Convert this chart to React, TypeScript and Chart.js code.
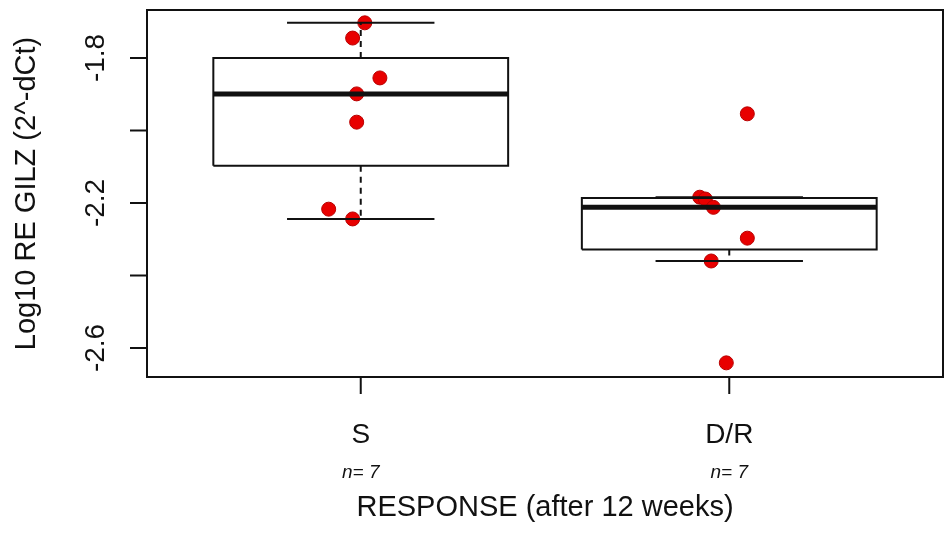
import { useEffect, useRef } from "react";
import { Chart, registerables } from "chart.js";

Chart.register(...registerables);

const groups = ["S", "D/R"];
const sValues = [-1.703, -1.745, -1.855, -1.899, -1.977, -2.217, -2.244];
const sJitter = [0.011, -0.022, 0.052, -0.011, -0.011, -0.087, -0.022];
const drValues = [-1.954, -2.184, -2.189, -2.212, -2.297, -2.36, -2.641];
const drJitter = [0.049, -0.08, -0.065, -0.043, 0.049, -0.049, -0.008];
const yTicks = [-2.6, -2.4, -2.2, -2.0, -1.8];
const yTickLabels = ["-2.6", "", "-2.2", "", "-1.8"];
const xTitle = "RESPONSE (after 12 weeks)";
const yTitle = "Log10 RE GILZ (2^-dCt)";

const FONT = '"Liberation Sans", Arial, sans-serif';

// tukey five-number summary like R's boxplot
function fivenum(v: number[]) {
    const s = [...v].sort((a, b) => a - b);
    const n = s.length;
    const n4 = Math.floor((n + 3) / 2) / 2;
    const d = [1, n4, (n + 1) / 2, n + 1 - n4, n];
    return d.map((i) => 0.5 * (s[Math.floor(i) - 1] + s[Math.ceil(i) - 1]));
}

function boxStats(v: number[]) {
    const [, q1, med, q3] = fivenum(v);
    const iqr = q3 - q1;
    const lo = Math.min(...v.filter((x) => x >= q1 - 1.5 * iqr));
    const hi = Math.max(...v.filter((x) => x <= q3 + 1.5 * iqr));
    return { q1, med, q3, lo, hi };
}

function seg(points: { x: number; y: number }[], width: number, dash: number[] = []) {
    return {
        type: "line" as const,
        data: points,
        borderColor: "#111",
        borderWidth: width,
        borderDash: dash,
        pointRadius: 0,
        showLine: true,
        fill: false,
        tension: 0,
        borderCapStyle: "butt" as const,
    };
}

function boxDatasets(v: number[], pos: number) {
    const b = boxStats(v);
    const bw = 0.4;
    const cw = 0.2;
    return [
        seg([{ x: pos, y: b.q3 }, { x: pos, y: b.hi }], 2, [6, 5]),
        seg([{ x: pos, y: b.q1 }, { x: pos, y: b.lo }], 2, [6, 5]),
        seg([{ x: pos - cw, y: b.hi }, { x: pos + cw, y: b.hi }], 2),
        seg([{ x: pos - cw, y: b.lo }, { x: pos + cw, y: b.lo }], 2),
        seg(
            [
                { x: pos - bw, y: b.q1 },
                { x: pos + bw, y: b.q1 },
                { x: pos + bw, y: b.q3 },
                { x: pos - bw, y: b.q3 },
                { x: pos - bw, y: b.q1 },
            ],
            2
        ),
        seg([{ x: pos - bw, y: b.med }, { x: pos + bw, y: b.med }], 5),
    ];
}

const axesPlugin = {
    id: "rAxes",
    afterDraw(chart: any) {
        const { ctx, chartArea } = chart;
        const xs = chart.scales.x;
        const ys = chart.scales.y;
        ctx.save();
        ctx.strokeStyle = "#111";
        ctx.fillStyle = "#111";
        ctx.lineWidth = 2;
        ctx.strokeRect(chartArea.left, chartArea.top, chartArea.right - chartArea.left, chartArea.bottom - chartArea.top);

        // y axis ticks
        ctx.font = `28px ${FONT}`;
        ctx.textAlign = "center";
        ctx.textBaseline = "alphabetic";
        yTicks.forEach((t, i) => {
            const py = ys.getPixelForValue(t);
            ctx.beginPath();
            ctx.moveTo(chartArea.left, py);
            ctx.lineTo(chartArea.left - 17, py);
            ctx.stroke();
            if (yTickLabels[i]) {
                ctx.save();
                ctx.translate(chartArea.left - 43, py);
                ctx.rotate(-Math.PI / 2);
                ctx.fillText(yTickLabels[i], 0, 0);
                ctx.restore();
            }
        });

        // x axis ticks
        groups.forEach((g, i) => {
            const px = xs.getPixelForValue(i + 1);
            ctx.beginPath();
            ctx.moveTo(px, chartArea.bottom);
            ctx.lineTo(px, chartArea.bottom + 17);
            ctx.stroke();
            ctx.font = `28px ${FONT}`;
            ctx.fillText(g, px, 443);
            const n = i === 0 ? sValues.length : drValues.length;
            ctx.font = `italic 19px ${FONT}`;
            ctx.fillText(`n= ${n}`, px, 478);
        });

        ctx.font = `29px ${FONT}`;
        ctx.fillText(xTitle, (chartArea.left + chartArea.right) / 2, 516);
        ctx.save();
        ctx.translate(35, (chartArea.top + chartArea.bottom) / 2);
        ctx.rotate(-Math.PI / 2);
        ctx.fillText(yTitle, 0, 0);
        ctx.restore();
        ctx.restore();
    },
};

function BoxChart() {
    const canvasRef = useRef<HTMLCanvasElement>(null);

    useEffect(() => {
        document.body.style.margin = "0";
        const ctx = canvasRef.current?.getContext("2d");
        if (!ctx) return;
        const points = (vals: number[], jit: number[], pos: number) =>
            vals.map((y, i) => ({ x: pos + jit[i], y }));
        const chart = new Chart(ctx, {
            type: "scatter",
            data: {
                datasets: [
                    ...boxDatasets(sValues, 1),
                    ...boxDatasets(drValues, 2),
                    {
                        type: "scatter",
                        data: [...points(sValues, sJitter, 1), ...points(drValues, drJitter, 2)],
                        backgroundColor: "#e80000",
                        borderColor: "#b80000",
                        borderWidth: 1,
                        pointRadius: 7,
                    },
                ] as any,
            },
            options: {
                animation: false,
                responsive: true,
                maintainAspectRatio: false,
                layout: { autoPadding: false, padding: { left: 147, top: 10, right: 2, bottom: 163 } },
                scales: {
                    x: { type: "linear", min: 0.42, max: 2.58, display: false },
                    y: { type: "linear", min: -2.68, max: -1.6676, display: false },
                },
                plugins: {
                    legend: { display: false },
                    tooltip: { enabled: false },
                },
            },
            plugins: [axesPlugin],
        });
        return () => chart.destroy();
    }, []);

    return (
        <div style={{ width: 945, height: 540, position: "relative", background: "#fff" }}>
            <canvas ref={canvasRef} />
        </div>
    );
}

export default function App() {
    return <BoxChart />;
}
